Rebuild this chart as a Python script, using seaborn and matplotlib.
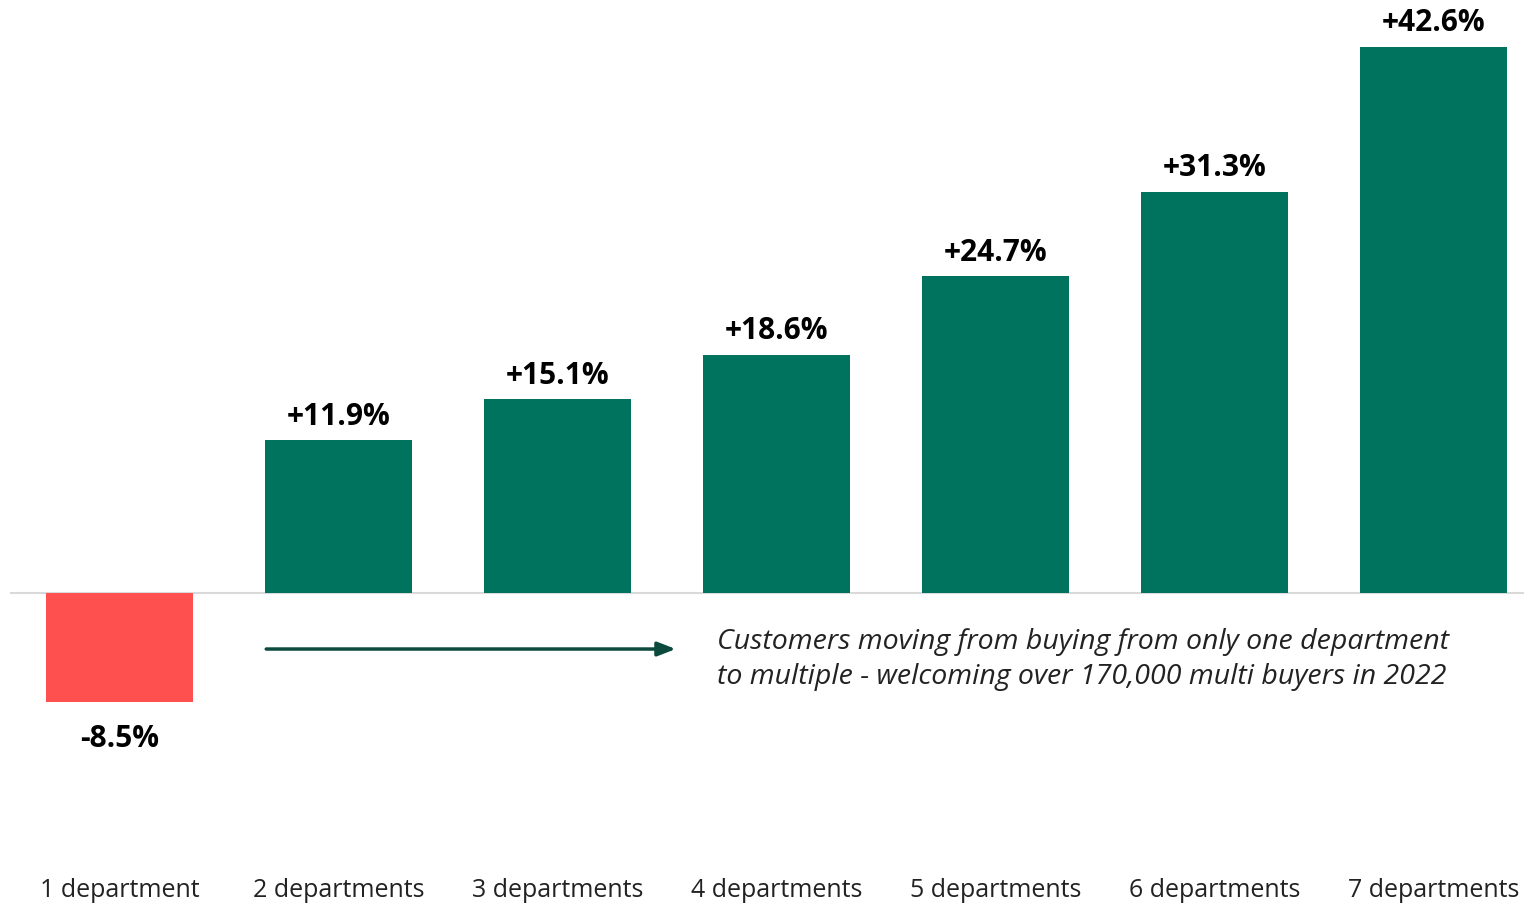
import matplotlib
matplotlib.use("Agg")
import matplotlib.pyplot as plt
import seaborn as sns
import pandas as pd

# Growth by number of departments shopped
categories = ["1 department", "2 departments", "3 departments", "4 departments",
              "5 departments", "6 departments", "7 departments"]
growth = [-8.5, 11.9, 15.1, 18.6, 24.7, 31.3, 42.6]
value_labels = ["-8.5%", "+11.9%", "+15.1%", "+18.6%", "+24.7%", "+31.3%", "+42.6%"]
note_lines = ["Customers moving from buying from only one department",
              "to multiple - welcoming over 170,000 multi buyers in 2022"]

GREEN = "#00735F"
RED = "#FF5050"
ARROW = "#0B4A3C"

sns.set_theme(style="white")
plt.rcParams["font.family"] = ["Open Sans", "DejaVu Sans"]

df = pd.DataFrame({"category": categories, "growth": growth})
palette = {c: (RED if v < 0 else GREEN) for c, v in zip(categories, growth)}

W, H = 1524, 904
fig = plt.figure(figsize=(W / 100, H / 100), dpi=100)
ax_left, ax_right, ax_top, ax_bottom = 10, 1524, 0, 868
ax = fig.add_axes([ax_left / W, 1 - ax_bottom / H,
                   (ax_right - ax_left) / W, (ax_bottom - ax_top) / H])

sns.barplot(data=df, x="category", y="growth", hue="category", palette=palette,
            legend=False, width=0.667, saturation=1, linewidth=0, ax=ax)

# scale: 12.82 px per percentage point, baseline at 594 px
ppu = 12.82
ax.set_ylim(-(ax_bottom - 594) / ppu, (594 - ax_top) / ppu)
ax.set_xlim(-0.5, -0.5 + (ax_right - ax_left) / 219)

for s in ax.spines.values():
    s.set_visible(False)
ax.axhline(0, color="#D9D9D9", lw=1.5, zorder=0)
ax.set_yticks([])
ax.set_xlabel("")
ax.set_ylabel("")
ax.tick_params(axis="x", length=0, pad=7, labelsize=18, labelcolor="#222222")

for i, (v, lab) in enumerate(zip(growth, value_labels)):
    if v >= 0:
        ax.annotate(lab, (i, v), xytext=(0, 7), textcoords="offset points",
                    ha="center", va="bottom", fontsize=21.5, fontweight="bold",
                    color="black")
    else:
        ax.annotate(lab, (i, v), xytext=(0, -15), textcoords="offset points",
                    ha="center", va="top", fontsize=21.5, fontweight="bold",
                    color="black")

ax.annotate("", xy=(2.54, -4.37), xytext=(0.67, -4.37),
            arrowprops=dict(arrowstyle="-|>,head_length=0.9,head_width=0.35",
                            color=ARROW, lw=2.5, shrinkA=0, shrinkB=0))
ax.text(2.73, -5.1, "\n".join(note_lines), ha="left", va="center",
        fontsize=20.5, fontstyle="italic", color="#222222", linespacing=1.36)

fig.savefig("out.png", dpi=100)
